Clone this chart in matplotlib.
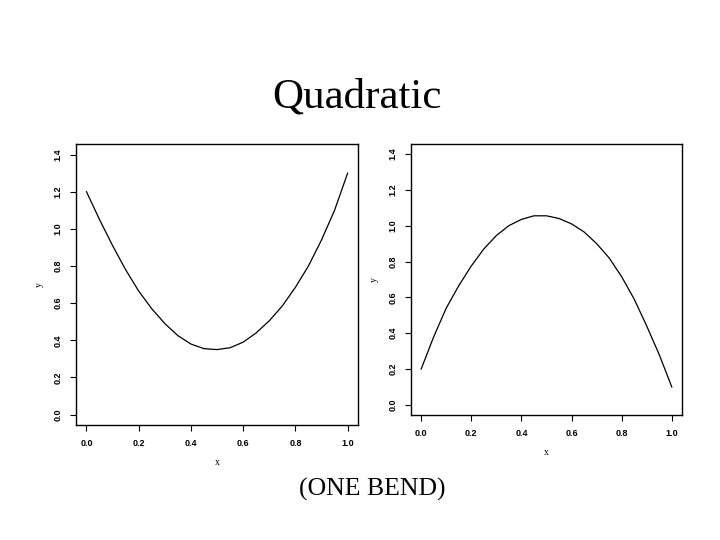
import matplotlib.pyplot as plt

# values
x = [0.0, 0.05, 0.10, 0.15, 0.20, 0.25, 0.30, 0.35, 0.40, 0.45, 0.50,
     0.55, 0.60, 0.65, 0.70, 0.75, 0.80, 0.85, 0.90, 0.95, 1.0]
y_up = [1.20, 1.05, 0.91, 0.78, 0.665, 0.57, 0.49, 0.425, 0.38, 0.355, 0.35,
        0.36, 0.39, 0.44, 0.505, 0.585, 0.685, 0.80, 0.94, 1.10, 1.30]
y_down = [0.20, 0.38, 0.54, 0.665, 0.775, 0.87, 0.945, 1.00, 1.035, 1.055, 1.055,
          1.04, 1.01, 0.965, 0.90, 0.82, 0.715, 0.59, 0.44, 0.28, 0.10]
xticks = [0.0, 0.2, 0.4, 0.6, 0.8, 1.0]
yticks = [0.0, 0.2, 0.4, 0.6, 0.8, 1.0, 1.2, 1.4]

fig = plt.figure(figsize=(7.2, 5.4), dpi=100)

panels = [
    ([0.1056, 0.213, 0.3917, 0.520], y_up),
    ([0.571, 0.2315, 0.376, 0.502], y_down),
]

for rect, y in panels:
    ax = fig.add_axes(rect)
    ax.plot(x, y, color="black", linewidth=0.9)
    ax.set_xlim(-0.04, 1.04)
    ax.set_ylim(-0.056, 1.456)
    ax.set_xticks(xticks)
    ax.set_yticks(yticks)
    ax.set_xticklabels([f"{t:.1f}" for t in xticks], fontsize=6.5,
                       fontweight="bold", family="Liberation Sans")
    ax.set_yticklabels([f"{t:.1f}" for t in yticks], fontsize=6.5,
                       fontweight="bold", family="Liberation Sans",
                       rotation=90, va="center")
    ax.tick_params(direction="out", length=4, width=0.8, pad=6)
    for s in ax.spines.values():
        s.set_linewidth(1.0)
    ax.set_xlabel("x", fontsize=7, family="Liberation Serif", labelpad=7)
    ax.set_ylabel("y", fontsize=7, family="Liberation Serif", labelpad=7)

fig.text(0.496, 0.82, "Quadratic", ha="center", va="center",
         fontsize=31, family="Liberation Serif")
fig.text(0.517, 0.093, "(ONE BEND)", ha="center", va="center",
         fontsize=18.5, family="Liberation Serif")

fig.savefig("out.png", dpi=100)
